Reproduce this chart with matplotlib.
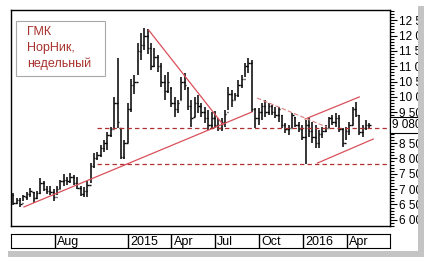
import numpy as np
import pandas as pd
import matplotlib
matplotlib.use("Agg")
import matplotlib.pyplot as plt
import matplotlib.dates as mdates
from matplotlib.patches import Rectangle
from matplotlib.ticker import MultipleLocator, FuncFormatter

plt.rcParams['font.family'] = ['Liberation Sans', 'DejaVu Sans']

# weekly bars, ГМК НорНик
dates = pd.date_range('2014-05-07', periods=107, freq='7D')

highs = [6880, 6720, 6720, 6820, 6920, 7050, 6920, 6950, 7370, 7250,
         7100, 7100, 7020, 7100, 7300, 7480, 7400, 7520, 7450, 7400,
         7100, 7060, 7250, 7850, 8180, 8210, 8440, 8600, 8860, 9020,
         10000, 11270, 9000, 8600, 9800, 10600, 10700, 11750, 12080, 12240,
         12210, 11750, 11590, 11360, 11100, 10710, 10810, 10320, 10000, 9900,
         10650, 10780, 10320, 9900, 10000, 10060, 9800, 9670, 9575, 9500,
         9550, 9300, 9300, 9575, 10320, 10225, 10130, 10550, 10710, 11100,
         11270, 11200, 9640, 9640, 9800, 9900, 9800, 9740, 9670, 9670,
         9410, 9150, 9090, 9480, 9350, 9190, 9090, 9250, 9350, 9190,
         9090, 8925, 9020, 9090, 9350, 9410, 9480, 9410, 8990, 9020,
         9190, 9670, 9835, 9410, 9090, 9250, 9150]
lows = [6490, 6500, 6430, 6600, 6660, 6760, 6550, 6680, 6850, 6950,
        6850, 6800, 6600, 6820, 7000, 7100, 7150, 7200, 7150, 7000,
        6780, 6750, 6760, 7200, 7690, 7950, 8050, 8200, 8280, 8700,
        9000, 9000, 7980, 7980, 8500, 9500, 10100, 10700, 11200, 11525,
        11400, 10875, 10970, 10810, 10320, 9900, 10130, 9670, 9350, 9480,
        9900, 10225, 9575, 9020, 9350, 9480, 9350, 9150, 8925, 8950,
        9000, 8900, 8900, 9020, 9575, 9670, 9900, 10000, 10290, 10650,
        10780, 9510, 8990, 9090, 9250, 9350, 9410, 9410, 9310, 9190,
        8990, 8830, 8760, 8990, 9020, 8860, 8600, 7820, 8700, 8500,
        8340, 8340, 8670, 8860, 8990, 9090, 9020, 8860, 8370, 8600,
        8760, 9090, 9350, 8760, 8700, 8925, 8990]
opens = [6800, 6560, 6650, 6560, 6760, 6850, 6900, 6720, 6880, 7200,
         7000, 6950, 6900, 6750, 7020, 7250, 7300, 7250, 7400, 7200,
         7050, 6850, 6950, 7150, 7750, 8000, 8100, 8350, 8500, 8750,
         8950, 9800, 9000, 8050, 8500, 9600, 10400, 10500, 11500, 11700,
         12000, 11600, 11000, 11300, 11000, 10500, 10200, 10300, 9800, 9600,
         9900, 10500, 10300, 9700, 9350, 9800, 9700, 9500, 9300, 9100,
         9300, 9100, 9000, 9200, 9500, 10100, 9900, 10050, 10400, 10600,
         11000, 11100, 9600, 9300, 9500, 9700, 9500, 9700, 9500, 9400,
         9400, 9100, 8950, 9000, 9350, 9100, 8950, 8700, 9100, 8900,
         8700, 8500, 8800, 8900, 9000, 9300, 9200, 9300, 8950, 8500,
         8900, 9100, 9600, 9400, 8850, 9000, 9100]
closes = [6560, 6650, 6520, 6780, 6850, 6950, 6700, 6880, 7200, 7000,
          6950, 6900, 6750, 7000, 7250, 7300, 7250, 7400, 7200, 7050,
          6850, 6950, 7150, 7750, 8000, 8100, 8350, 8500, 8750, 8950,
          9800, 9200, 8050, 8500, 9600, 10400, 10500, 11500, 11700, 12000,
          11600, 11000, 11300, 11000, 10500, 10200, 10500, 9800, 9600, 9800,
          10500, 10400, 9700, 9300, 9800, 9700, 9500, 9300, 9100, 9300,
          9100, 9000, 9200, 9450, 10100, 9900, 10050, 10400, 10600, 11000,
          11100, 9600, 9300, 9500, 9700, 9500, 9700, 9500, 9400, 9600,
          9100, 8950, 9000, 9400, 9100, 8950, 8700, 9100, 8900, 8700,
          8500, 8800, 8900, 9000, 9300, 9200, 9300, 8950, 8500, 8900,
          9100, 9600, 9400, 8850, 9000, 9100, 9080]

# trend lines: (start date, start value, end date, end value)
trend_lines = [
    ('2014-05-29', 6420, '2015-09-16', 9510),
    ('2015-02-13', 12175, '2015-07-18', 9100),
    ('2016-01-05', 9280, '2016-04-27', 10000),
    ('2016-01-31', 7850, '2016-05-26', 8630),
]
faint_line = ('2015-09-27', 9965, '2016-02-19', 9020)
levels = [8990, 7820]
level_start = '2014-10-28'

month_marks = ['2014-08-01', '2015-01-01', '2015-04-01', '2015-07-01',
               '2015-10-01', '2016-01-01', '2016-04-01']
month_labels = ['Aug', '2015', 'Apr', 'Jul', 'Oct', '2016', 'Apr']
last_price = 9080

W, H = 432, 262
fig = plt.figure(figsize=(W / 100, H / 100), dpi=100)
fig.patch.set_facecolor('white')

ax = fig.add_axes([11 / W, 1 - 226 / H, 379 / W, 216 / H])
ax.set_xlim(pd.Timestamp('2014-05-02'), pd.Timestamp('2016-06-30'))
ax.set_ylim(5800, 12830)

# OHLC bars
tick = pd.Timedelta(days=3)
ax.vlines(dates, lows, highs, color='black', lw=1.1)
ax.hlines(opens, dates - tick, dates, color='black', lw=1.0)
ax.hlines(closes, dates, dates + tick, color='black', lw=1.0)

for d0, v0, d1, v1 in trend_lines:
    ax.plot([pd.Timestamp(d0), pd.Timestamp(d1)], [v0, v1],
            color='#d9505a', lw=0.9)
d0, v0, d1, v1 = faint_line
ax.plot([pd.Timestamp(d0), pd.Timestamp(d1)], [v0, v1],
        color='#d98080', lw=0.8, ls=(0, (4, 2)))
for lv in levels:
    ax.plot([pd.Timestamp(level_start), pd.Timestamp('2016-06-30')], [lv, lv],
            color='#b03030', lw=0.9, ls=(0, (3.5, 2.5)))


def price_fmt(v, p):
    # the last-price box hides the nearest round label
    if abs(v - last_price) < 250:
        return ''
    return f"{int(v):,}".replace(',', ' ')


# right price axis
ax.yaxis.tick_right()
ax.yaxis.set_major_locator(MultipleLocator(500))
ax.yaxis.set_minor_locator(MultipleLocator(100))
ax.yaxis.set_major_formatter(FuncFormatter(price_fmt))
ax.tick_params(axis='y', which='major', length=5, width=0.8, pad=1.5, labelsize=8.5)
ax.tick_params(axis='y', which='minor', length=3, width=0.8)
ax.set_xticks([])
for s in ax.spines.values():
    s.set_linewidth(1.0)

ax.text(1.004, last_price, f"{last_price:,}".replace(',', ' '),
        transform=ax.get_yaxis_transform(), va='center', ha='left', fontsize=8.5,
        bbox=dict(boxstyle='square,pad=0.15', fc='white', ec='black', lw=0.8))

# legend box
fig.patches.append(Rectangle((16 / W, 1 - 76 / H), 89 / W, 55 / H,
                             transform=fig.transFigure, fc='white', ec='#a8a8a8', lw=0.8, zorder=3))
for k, line in enumerate(['ГМК', 'НорНик,', 'недельный']):
    fig.text(27 / W, 1 - (32 + 16 * k) / H, line, color='#a8322d', fontsize=9,
             va='center', ha='left', zorder=4)

# date axis
axd = fig.add_axes([11 / W, 1 - 248 / H, 379 / W, 14 / H])
axd.set_xlim(ax.get_xlim())
axd.set_ylim(0, 1)
axd.set_xticks([])
axd.set_yticks([])
for m, lab in zip(month_marks, month_labels):
    t = pd.Timestamp(m)
    axd.axvline(t, color='black', lw=1.0)
    axd.text(t + pd.Timedelta(days=5), 0.45, lab, va='center', ha='left', fontsize=9)

# card edge and shadow (the price labels are cut at the card edge, as in the source)
fig.patches.append(Rectangle((419 / W, 0), 13 / W, 1, transform=fig.transFigure,
                             fc='white', ec='none', zorder=10))
fig.patches.append(Rectangle((418 / W, 1 - 256 / H), 6 / W, 250 / H, transform=fig.transFigure,
                             fc='#c4c4c4', ec='none', zorder=11))
fig.patches.append(Rectangle((8 / W, 1 - 257 / H), 416 / W, 6 / H, transform=fig.transFigure,
                             fc='#c4c4c4', ec='none', zorder=11))

fig.savefig('out.png', dpi=100)
